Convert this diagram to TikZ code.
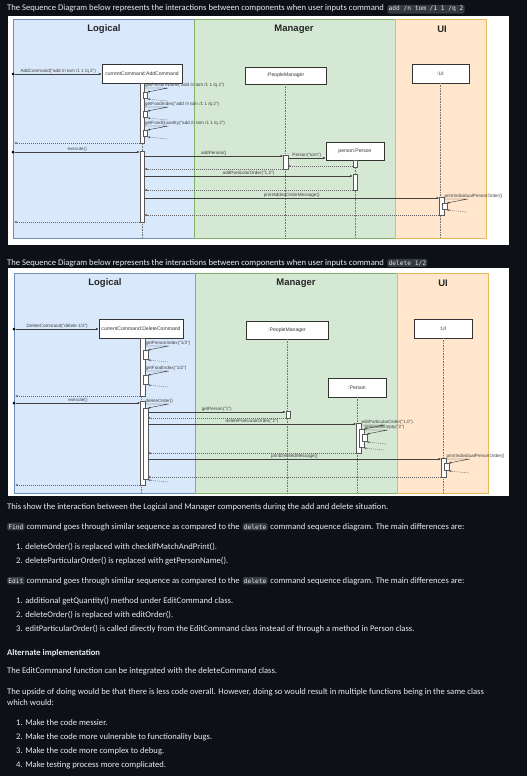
\documentclass[tikz,border=0pt]{standalone}
\usepackage{fontspec}
\setmainfont{Carlito}
\newfontfamily\dio{Liberation Sans}
\newfontfamily\ghmono{DejaVu Sans Mono}
\usetikzlibrary{positioning,arrows.meta}
\definecolor{pagebg}{HTML}{0D1117}
\definecolor{pagefg}{HTML}{E6EDF3}
\definecolor{codebg}{HTML}{343940}
\definecolor{logfill}{HTML}{DAE8FC}
\definecolor{logline}{HTML}{6C8EBF}
\definecolor{mgrfill}{HTML}{D5E8D4}
\definecolor{mgrline}{HTML}{82B366}
\definecolor{uifill}{HTML}{FFE6CC}
\definecolor{uiline}{HTML}{E6B85C}
\tikzset{txt/.style={anchor=base west, inner sep=0, text=pagefg, font=\fontsize{8.6}{10}\selectfont}}
\tikzset{captxt/.style={txt, font=\fontsize{8.6}{10}\selectfont}}
\tikzset{code/.style={fill=codebg, rounded corners=1.5, inner sep=1.3pt, text=pagefg, font=\ghmono\fontsize{6.2}{7}\selectfont}}
\tikzset{lanelog/.style={fill=logfill, draw=logline, line width=0.5pt}}
\tikzset{lanemgr/.style={fill=mgrfill, draw=mgrline, line width=0.5pt}}
\tikzset{laneui/.style={fill=uifill, draw=uiline, line width=0.5pt}}
\tikzset{lanetitle/.style={font=\dio\bfseries\fontsize{9.5}{11}\selectfont, text=black!85}}
\tikzset{objbox/.style={draw=black!80, fill=white, inner sep=0, line width=0.5pt, font=\dio\fontsize{5.1}{6}\selectfont, text=black!80}}
\tikzset{lifeline/.style={draw=black!55, line width=0.4pt, dash pattern=on 0.8pt off 0.8pt}}
\tikzset{barbox/.style={draw=black!65, fill=white, line width=0.4pt, minimum width=4.5pt, inner sep=0, outer sep=0}}
\tikzset{msg/.style={draw=black!75, line width=0.45pt, -{Latex[length=2.6pt,width=2.2pt]}}}
\tikzset{ret/.style={msg, draw=black!60, dash pattern=on 1pt off 1pt}}
\tikzset{lbl/.style={font=\dio\fontsize{4.6}{5}\selectfont, text=black!75, inner sep=0.6pt}}
\tikzset{startdot/.style={circle, fill=black, minimum size=3pt, inner sep=0}}
\newcommand\actbar[4]{%
  \pgfmathsetmacro\barlen{#4-#3}%
  \node[barbox, minimum height=\barlen pt, anchor=north] (#1) at (#2,#3) {};}
\newcommand\selfcall[5][6]{%
  \node[barbox, minimum height=#1pt, anchor=north west, xshift=-1.5pt] (#3) at (#2.east |- 0,{#4+4}) {};
  \node[lbl, anchor=south west] at (#2.east |- 0,#4) {#5};
  \draw[msg] (#2.east |- 0,#4) -- ++(24,0) -- (#3.north east);
  \draw[ret] ([xshift=20pt,yshift=-3pt]#3.south east) -- ([yshift=-1pt]#3.south east);}

\begin{document}
\begin{tikzpicture}[x=1pt,y=-1pt]
\fill[pagebg] (0,0) rectangle (527,776);
\useasboundingbox (0,0) rectangle (527,776);
%
% add command
\node[captxt] (capA) at (7,11) {The Sequence Diagram below represents the interactions between components when user inputs command};
\node[code, right=3pt of capA.base east, anchor=base west] (codeA) {add /n tom /1 1 /q 2};
\fill[white] (8,16) rectangle (509,245);
\path[lanelog] (13,19) rectangle (194,238);
\path[lanemgr] (194,19) rectangle (395,238);
\path[laneui] (395,19) rectangle (486,238);
\node[lanetitle] (tlogA) at (104,29) {Logical};
\node[lanetitle] (tmgrA) at (294,29) {Manager};
\node[lanetitle] (tuiA) at (442,29) {UI};
\node[objbox, minimum width=80pt, minimum height=19pt] (cmdA) at (142,73.5) {currentCommand:AddCommand};
\node[objbox, minimum width=81pt, minimum height=17pt] (pmA) at (285.5,75.5) {:PeopleManager};
\node[objbox, minimum width=57pt, minimum height=19pt] (uiA) at (440.5,73.5) {:UI};
\node[objbox, minimum width=58pt, minimum height=18pt] (perA) at (355,151) {person:Person};
\draw[lifeline] (cmdA.south) -- (cmdA.south |- 0,238);
\draw[lifeline] (pmA.south) -- (pmA.south |- 0,238);
\draw[lifeline] (uiA.south) -- (uiA.south |- 0,238);
\draw[lifeline] (perA.south) -- (perA.south |- 0,238);
%
\node[startdot] (inA1) at (13,74) {};
\draw[msg] (inA1) -- (cmdA.west |- inA1) node[lbl, midway, above] {AddCommand("add /n tom /1 1 /q 2")};
\actbar{barA1}{142}{83}{143}
\selfcall{barA1}{sA1}{88}{getPersonName("add /n tom /1 1 /q 2")}
\selfcall{barA1}{sA2}{107}{getFoodIndex("add /n tom /1 1 /q 2")}
\selfcall{barA1}{sA3}{126}{getFoodQuantity("add /n tom /1 1 /q 2")}
\coordinate (outA1) at (14,143);
\draw[ret] (barA1.south west) -- (outA1);
%
\node[startdot] (inA2) at (13,152) {};
\actbar{barA2}{142}{151}{222}
\draw[msg] (inA2) -- (barA2.west |- inA2) node[lbl, midway, above] {execute()};
\actbar{pmbarA}{285.5}{155}{169}
\draw[msg] (barA2.east |- 0,156) -- (pmbarA.west |- 0,156) node[lbl, midway, above] {addPerson()};
\draw[msg] (pmbarA.east |- 0,158) -- (perA.west |- 0,158) node[lbl, midway, above] {Person("tom")};
\actbar{perbarA1}{355}{160}{167}
\draw[ret] (perbarA1.west |- 0,166) -- (pmbarA.east |- 0,166);
\draw[ret] (pmbarA.south west) -- (barA2.east |- 0,169);
\actbar{perbarA2}{355}{174}{190}
\draw[msg] (barA2.east |- 0,176) -- (perbarA2.west |- 0,176) node[lbl, midway, above] {addParticularOrder("1,2")};
\draw[ret] (perbarA2.south west) -- (barA2.east |- 0,190);
\actbar{uibarA}{441.5}{197}{215}
\draw[msg] (barA2.east |- 0,198) -- (uibarA.west |- 0,198) node[lbl, midway, above] {printAddedOrderMessage()};
\selfcall{uibarA}{sA4}{199}{printIndividualPersonOrder()}
\draw[ret] (uibarA.south west) -- (barA2.east |- 0,215);
\coordinate (outA2) at (14,222);
\draw[ret] (barA2.south west) -- (outA2);
%
% delete command
\node[captxt] (capB) at (7,265) {The Sequence Diagram below represents the interactions between components when user inputs command};
\node[code, right=3pt of capB.base east, anchor=base west] (codeB) {delete 1/2};
\fill[white] (8,268) rectangle (509,496);
\path[lanelog] (14,273) rectangle (195,493);
\path[lanemgr] (195,273) rectangle (397,493);
\path[laneui] (397,273) rectangle (488,493);
\node[lanetitle] (tlogB) at (105,283) {Logical};
\node[lanetitle] (tmgrB) at (296,283) {Manager};
\node[lanetitle] (tuiB) at (443,283) {UI};
\node[objbox, minimum width=84pt, minimum height=19pt] (cmdB) at (141,328.5) {currentCommand:DeleteCommand};
\node[objbox, minimum width=82pt, minimum height=18pt] (pmB) at (287,330) {:PeopleManager};
\node[objbox, minimum width=58pt, minimum height=19pt] (uiB) at (443,328.5) {:UI};
\node[objbox, minimum width=58pt, minimum height=19pt] (perB) at (357,387.5) {:Person};
\draw[lifeline] (cmdB.south) -- (cmdB.south |- 0,493);
\draw[lifeline] (pmB.south) -- (pmB.south |- 0,493);
\draw[lifeline] (uiB.south) -- (uiB.south |- 0,493);
\draw[lifeline] (perB.south) -- (perB.south |- 0,493);
%
\node[startdot] (inB1) at (14,329) {};
\draw[msg] (inB1) -- (cmdB.west |- inB1) node[lbl, midway, above] {DeleteCommand("delete 1/2")};
\actbar{barB1}{142.5}{338}{396}
\selfcall[9]{barB1}{sB1}{346}{getPersonIndex("1/2")}
\selfcall[9]{barB1}{sB2}{371}{getFoodIndex("1/2")}
\coordinate (outB1) at (15,396);
\draw[ret] (barB1.south west) -- (outB1);
%
\node[startdot] (inB2) at (14,403) {};
\actbar{barB2}{142.5}{401}{485}
\draw[msg] (inB2) -- (barB2.west |- inB2) node[lbl, midway, above] {execute()};
\selfcall[71]{barB2}{barB3}{404}{deleteOrder()}
\actbar{pmbarB}{288}{411}{418}
\draw[msg] (barB3.east |- 0,412) -- (pmbarB.west |- 0,412) node[lbl, midway, above] {getPerson("1")};
\draw[ret] (pmbarB.south west) -- (barB3.east |- 0,418);
\actbar{perbarB1}{358.5}{423}{453}
\draw[msg] (barB3.east |- 0,424) -- (perbarB1.west |- 0,424) node[lbl, midway, above] {deleteParticularOrder("2")};
\selfcall[18]{perbarB1}{perbarB2}{425}{editParticularOrder("1,0")}
\selfcall[7]{perbarB2}{sB3}{430}{removeIfEmpty("2")}
\draw[ret] (perbarB1.south west) -- (barB3.east |- 0,453);
\actbar{uibarB}{443.5}{458}{477}
\draw[msg] (barB3.east |- 0,459) -- (uibarB.west |- 0,459) node[lbl, midway, above] {printDeletedMessage()};
\selfcall[7]{uibarB}{sB4}{459}{printIndividualPersonOrder()}
\draw[ret] (uibarB.south west) -- (barB3.east |- 0,477);
\coordinate (outB2) at (15,485);
\draw[ret] (barB2.south west) -- (outB2);
%
% notes below the diagrams
\node[txt] (noteA) at (7,509) {This show the interaction between the Logical and Manager components during the add and delete situation.};
\node[code, anchor=base west] (findC) at (7,529) {Find};
\node[txt, right=1.5pt of findC.base east, anchor=base west] (findT) {command goes through similar sequence as compared to the};
\node[code, right=2.5pt of findT.base east, anchor=base west] (delC1) {delete};
\node[txt, right=2.5pt of delC1.base east, anchor=base west] (findT2) {command sequence diagram. The main differences are:};
\node[txt] (findL1) at (16,549) {1. deleteOrder() is replaced with checkIfMatchAndPrint().};
\node[txt] (findL2) at (16,563) {2. deleteParticularOrder() is replaced with getPersonName().};
\node[code, anchor=base west] (editC) at (7,583) {Edit};
\node[txt, right=1.5pt of editC.base east, anchor=base west] (editT) {command goes through similar sequence as compared to the};
\node[code, right=2.5pt of editT.base east, anchor=base west] (delC2) {delete};
\node[txt, right=2.5pt of delC2.base east, anchor=base west] (editT2) {command sequence diagram. The main differences are:};
\node[txt] (editL1) at (16,603) {1. additional getQuantity() method under EditCommand class.};
\node[txt] (editL2) at (16,617) {2. deleteOrder() is replaced with editOrder().};
\node[txt] (editL3) at (16,631) {3. editParticularOrder() is called directly from the EditCommand class instead of through a method in Person class.};
\node[txt, font=\bfseries\fontsize{8.6}{10}\selectfont] (altH) at (7,655) {Alternate implementation};
\node[txt] (altP1) at (7,673) {The EditCommand function can be integrated with the deleteCommand class.};
\node[txt] (altP2) at (7,694) {The upside of doing would be that there is less code overall. However, doing so would result in multiple functions being in the same class};
\node[txt] (altP3) at (7,705) {which would:};
\node[txt] (altL1) at (16,725) {1. Make the code messier.};
\node[txt] (altL2) at (16,739) {2. Make the code more vulnerable to functionality bugs.};
\node[txt] (altL3) at (16,753) {3. Make the code more complex to debug.};
\node[txt] (altL4) at (16,767) {4. Make testing process more complicated.};
\end{tikzpicture}
\end{document}
